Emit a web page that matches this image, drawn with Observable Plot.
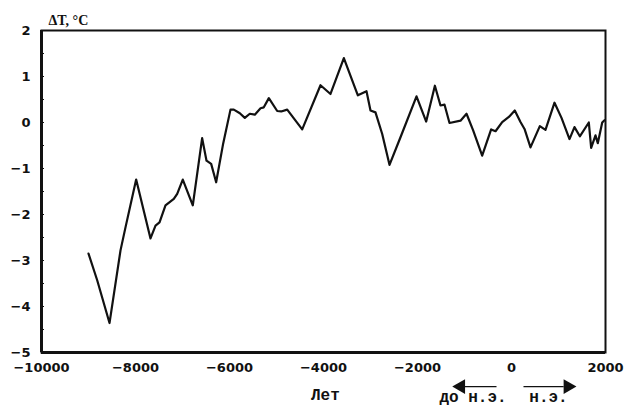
<!DOCTYPE html>
<html><head><meta charset="utf-8">
<script src="https://cdn.jsdelivr.net/npm/d3@7"></script>
<script src="https://cdn.jsdelivr.net/npm/@observablehq/plot@0.6"></script>
<style>body{margin:0;background:#fff}</style>
</head><body><div id="chart"></div>
<script>
const years = [-9000,-8815,-8553,-8319,-8213,-7986,-7681,-7574,-7489,-7362,-7185,-7113,-6994,-6781,-6582,-6489,-6390,-6284,-6135,-5979,-5908,-5780,-5674,-5568,-5462,-5340,-5270,-5163,-4985,-4900,-4772,-4453,-4064,-3851,-3567,-3269,-3085,-3000,-2894,-2751,-2596,-2362,-2021,-1815,-1630,-1511,-1426,-1319,-1085,-957,-816,-624,-433,-340,-198,-56,70,191,277,404,603,723,915,1064,1234,1340,1454,1645,1695,1787,1836,1930,1979];
const dT = [-2.85,-3.43,-4.36,-2.78,-2.28,-1.24,-2.52,-2.24,-2.17,-1.80,-1.66,-1.55,-1.24,-1.80,-0.34,-0.83,-0.90,-1.30,-0.46,0.28,0.28,0.20,0.10,0.19,0.17,0.31,0.33,0.53,0.25,0.24,0.28,-0.15,0.81,0.62,1.40,0.59,0.68,0.26,0.22,-0.25,-0.92,-0.32,0.57,0.02,0.80,0.37,0.39,-0.01,0.04,0.19,-0.17,-0.72,-0.15,-0.19,0.01,0.12,0.26,0.01,-0.14,-0.54,-0.08,-0.16,0.43,0.10,-0.36,-0.10,-0.30,0.00,-0.55,-0.28,-0.45,0.00,0.05];
const xTicks = [-10000,-8000,-6000,-4000,-2000,0,2000];
const yTicks = [-5,-4,-3,-2,-1,0,1,2];
const yMinor = [-4.5,-4,-3.5,-3,-2.5,-2,-1.5,-1,-0.5,0,0.5,1,1.5];
const yLabel = "ΔT, °C";
const xLabel = "Лет";
const xLabelYear = -3960;
const eraLabels = [{x:-819, t:"до н.э."}, {x:787, t:"н.э."}];
// arrows: shaft from/to and head position (years), at y level below axis
const arrowY = -5.74;
const arrows = [{from:-319, to:-990, head:-1079, dir:-90}, {from:255, to:1110, head:1200, dir:90}];

const data = years.map((x,i)=>({x, y:dT[i]}));
const fmt = d => d.toString().replace("-", "−");
const plot = Plot.plot({
  width: 631, height: 418,
  marginLeft: 41, marginRight: 26, marginTop: 30, marginBottom: 66,
  style: {fontFamily: "DejaVu Sans", fontWeight: "bold", fontSize: "13px", background: "#fff", color: "#111"},
  x: {domain: [-10000, 2000], label: null},
  y: {domain: [-5, 2], label: null},
  marks: [
    Plot.axisX({ticks: xTicks, tickSize: 0, tickPadding: 10, tickFormat: fmt, fontWeight: "bold", fontSize: 13}),
    Plot.axisY({ticks: yTicks, tickSize: 0, tickPadding: 11, tickFormat: fmt, fontWeight: "bold", fontSize: 13}),
    Plot.axisY({ticks: yMinor, tickSize: -3, text: null, strokeWidth: 1}),
    Plot.frame({stroke: "#111", strokeWidth: 2}),
    Plot.ruleX([-10000], {stroke: "#111", strokeWidth: 3}),
    Plot.ruleY([-5], {stroke: "#111", strokeWidth: 3}),
    Plot.line(data, {x: "x", y: "y", stroke: "#111", strokeWidth: 2.2}),
    Plot.text([yLabel], {frameAnchor: "top-left", dx: 7, dy: -6, lineAnchor: "bottom", text: d => d, fontFamily: "Liberation Serif", fontSize: 14, fontWeight: "bold", textAnchor: "start"}),
    Plot.text([xLabel], {x: [xLabelYear], frameAnchor: "bottom", dy: 47, text: d => d, fontFamily: "Liberation Mono", fontSize: 16, fontWeight: "bold"}),
    Plot.text(eraLabels, {x: "x", frameAnchor: "bottom", dy: 49, text: "t", fontFamily: "Liberation Mono", fontSize: 16, fontWeight: "bold"}),
    Plot.link(arrows, {x1: "from", x2: "to", y1: () => arrowY, y2: () => arrowY, stroke: "#111", strokeWidth: 1.2}),
    Plot.dot(arrows, {x: "head", y: () => arrowY, symbol: "triangle", r: 5.5, fill: "#111", stroke: null, rotate: "dir"})
  ]
});
document.getElementById("chart").appendChild(plot);
</script>
</body></html>
